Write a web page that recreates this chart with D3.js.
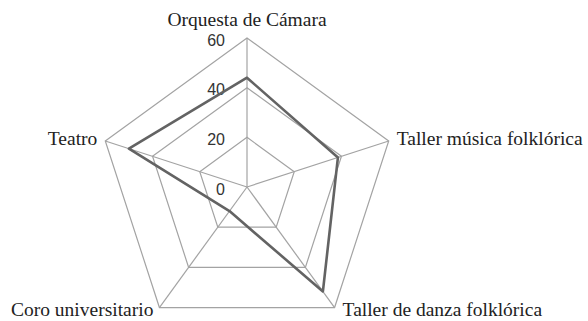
<!DOCTYPE html>
<html>
<head>
<meta charset="utf-8">
<script src="https://cdn.jsdelivr.net/npm/d3@7"></script>
<style>
  body { margin: 0; background: #fff; }
  .cat { font-family: "Liberation Serif", "Times New Roman", serif; font-size: 19.5px; fill: #222; }
  .tick { font-family: "Liberation Sans", Arial, sans-serif; font-size: 16px; fill: #333; }
</style>
</head>
<body>
<div id="chart"></div>
<script>
// data
var categories = ["Orquesta de Cámara", "Taller música folklórica", "Taller de danza folklórica", "Coro universitario", "Teatro"];
var values = [44, 38.5, 52, 12, 50];
var ticks = [0, 20, 40, 60];

var width = 588, height = 321;
var cx = 247, cy = 187, radius = 149;

var svg = d3.select("#chart")
  .append("svg")
  .attr("width", width)
  .attr("height", height)
  .append("g")
  .attr("transform", "translate(" + cx + "," + cy + ")");

var r = d3.scaleLinear().domain([0, 60]).range([0, radius]);
var angle = d3.scaleLinear().domain([0, categories.length]).range([0, 2 * Math.PI]);

// rings
var ring = d3.lineRadial()
  .angle(function(d, i) { return angle(i); })
  .radius(function(d) { return r(d); })
  .curve(d3.curveLinearClosed);

svg.selectAll(".ring")
  .data(ticks.filter(function(t) { return t > 0; }))
  .enter()
  .append("path")
    .attr("d", function(t) { return ring(categories.map(function() { return t; })); })
    .style("fill", "none")
    .style("stroke", "#a3a3a3")
    .style("stroke-width", 1.2);

// spokes
function px(i, v) { return r(v) * Math.sin(angle(i)); }
function py(i, v) { return -r(v) * Math.cos(angle(i)); }

svg.selectAll(".spoke")
  .data(categories)
  .enter()
  .append("line")
    .attr("x1", 0).attr("y1", 0)
    .attr("x2", function(d, i) { return px(i, 60); })
    .attr("y2", function(d, i) { return py(i, 60); })
    .style("stroke", "#a3a3a3")
    .style("stroke-width", 1.2);

// tick labels
svg.selectAll(".tick")
  .data(ticks)
  .enter()
  .append("text")
    .attr("class", "tick")
    .attr("x", -22)
    .attr("y", function(t) { return -r(t) + 2; })
    .attr("dy", "0.35em")
    .attr("text-anchor", "end")
    .text(function(t) { return t; });

// series
svg.append("path")
  .datum(values)
  .attr("d", ring)
  .style("fill", "none")
  .style("stroke", "#636363")
  .style("stroke-width", 2.6)
  .style("stroke-linejoin", "round");

// category labels
var anchors = ["middle", "start", "start", "end", "end"];
var offs = [[0, -12], [8, 4], [8, 8.5], [-6, 8.5], [-8, 4]];
svg.selectAll(".cat")
  .data(categories)
  .enter()
  .append("text")
    .attr("class", "cat")
    .attr("x", function(d, i) { return px(i, 60) + offs[i][0]; })
    .attr("y", function(d, i) { return py(i, 60) + offs[i][1]; })
    .attr("text-anchor", function(d, i) { return anchors[i]; })
    .text(function(d) { return d; });
</script>
</body>
</html>
